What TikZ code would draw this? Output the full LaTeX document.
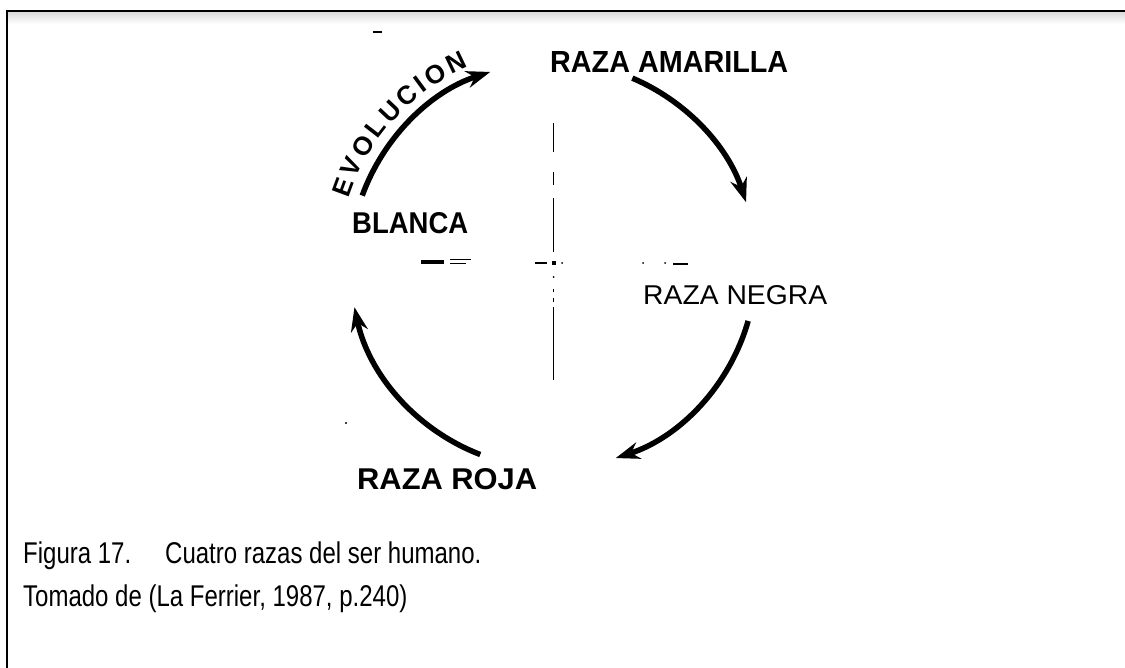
\documentclass[tikz,border=0pt]{standalone}
\usepackage{fontspec}
\setmainfont{Liberation Sans}
\usetikzlibrary{arrows.meta,decorations.text}
\begin{document}
\begin{tikzpicture}[x=1pt,y=1pt,
  cyclearrow/.style={line width=5.5pt,-{Stealth[length=24pt,width=17pt]}},
  axisline/.style={line width=1.6pt},
  lbl/.style={inner sep=0pt,anchor=north west},
  captext/.style={inner sep=0pt,anchor=base west,font=\fontsize{30}{30}\selectfont}]
\useasboundingbox (0,0) rectangle (1125,-668);
% frame
\shade[top color=black!14,bottom color=white] (8,-12) rectangle (1125,-24);
\draw[line width=2pt] (7,-668) -- (7,-11) -- (1125,-11);
% centre
\coordinate (C) at (553,-265);
% cycle arrows
\draw[cyclearrow] (C) ++(160:203) arc[start angle=160,end angle=108,radius=203];
\draw[cyclearrow] (C) ++(67:203) arc[start angle=67,end angle=18,radius=203];
\draw[cyclearrow] (C) ++(-16:203) arc[start angle=-16,end angle=-72,radius=203];
\draw[cyclearrow] (C) ++(-111:203) arc[start angle=-111,end angle=-168,radius=203];
% curved label
\path[decorate,decoration={text along path,text align=fit to path,
  text={|\bfseries\fontsize{26}{26}\selectfont|EVOLUCION}}]
  (C) ++(162:215) arc[start angle=162,end angle=113,radius=215];
% labels
\node[lbl] (am) at (550,-51) {\resizebox{238pt}{21pt}{\bfseries RAZA AMARILLA}};
\node[lbl] (bl) at (352,-212) {\resizebox{116pt}{21pt}{\bfseries BLANCA}};
\node[lbl] (ne) at (643,-285) {\resizebox{184pt}{19pt}{RAZA NEGRA}};
\node[lbl] (ro) at (357,-468) {\resizebox{180pt}{21pt}{\bfseries RAZA ROJA}};
% vertical broken line
\draw[axisline] (553.5,-123) -- (553.5,-152);
\draw[axisline] (553.5,-172) -- (553.5,-185);
\draw[axisline] (553.5,-198) -- (553.5,-252);
\draw[axisline] (553.5,-289) -- (553.5,-292);
\draw[axisline] (553.5,-298) -- (553.5,-302);
\draw[axisline] (553.5,-307) -- (553.5,-380);
\fill (551.5,-261) rectangle (555.5,-265);
\fill (553.5,-277) circle (1pt);
\fill (562,-263) circle (1pt);
\draw[line width=1.5pt] (535,-263) -- (547,-263);
% small marks
\draw[line width=3.5pt] (421,-262) -- (444,-262);
\draw[line width=1.5pt] (450,-259.5) -- (471,-259.5);
\draw[line width=1.5pt] (450,-263.5) -- (466,-263.5);
\fill (643,-263) circle (1pt);
\fill (665,-263) circle (1pt);
\draw[line width=1.5pt] (673,-264) -- (688,-264);
\draw[line width=1.5pt] (373,-32) -- (382,-32);
\fill (346,-423) circle (1.2pt);
% caption
\node[captext] (f) at (23,-563) {\scalebox{0.8}[1]{Figura 17.}};
\node[captext] (c) at (165,-563) {\scalebox{0.8}[1]{Cuatro razas del ser humano.}};
\node[captext] (t) at (23,-606) {\scalebox{0.8}[1]{Tomado de (La Ferrier, 1987, p.240)}};
\end{tikzpicture}
\end{document}
